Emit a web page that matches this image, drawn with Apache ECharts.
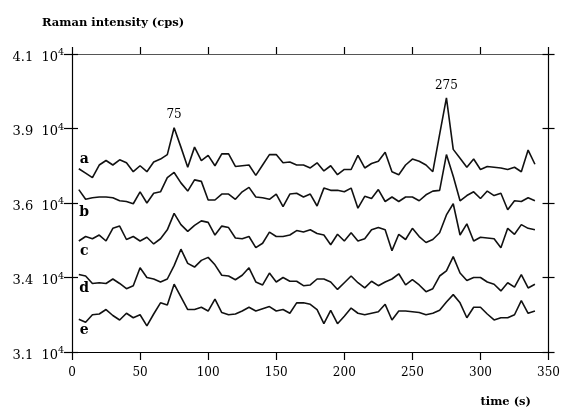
<!DOCTYPE html>
<html>
<head>
<meta charset="utf-8">
<script src="https://cdn.jsdelivr.net/npm/echarts@6/dist/echarts.min.js"></script>
<style>html,body{margin:0;padding:0;background:#fff}#chart{width:563px;height:407px}</style>
</head>
<body>
<div id="chart"></div>
<script>
// x values (time, s)
var time = [5,10,15,20,25,30,35,40,45,50,55,60,65,70,75,80,85,90,95,100,105,110,115,120,125,130,135,140,145,150,155,160,165,170,175,180,185,190,195,200,205,210,215,220,225,230,235,240,245,250,255,260,265,270,275,280,285,290,295,300,305,310,315,320,325,330,335,340];
// y values in tick-index units (0 = 3.1 10^4 ... 4 = 4.1 10^4), traces offset
var traceA = [2.46,2.40,2.34,2.51,2.57,2.51,2.58,2.54,2.42,2.50,2.42,2.55,2.59,2.65,3.01,2.75,2.48,2.75,2.57,2.64,2.50,2.66,2.66,2.49,2.50,2.51,2.37,2.51,2.65,2.65,2.54,2.55,2.51,2.51,2.47,2.54,2.43,2.50,2.38,2.45,2.45,2.64,2.47,2.53,2.56,2.68,2.42,2.38,2.51,2.59,2.56,2.51,2.42,2.92,3.41,2.72,2.60,2.48,2.59,2.45,2.49,2.48,2.47,2.45,2.48,2.42,2.71,2.52];
var traceB = [2.18,2.05,2.07,2.08,2.08,2.07,2.03,2.02,1.99,2.15,2.00,2.13,2.15,2.34,2.41,2.27,2.16,2.31,2.29,2.04,2.04,2.12,2.12,2.05,2.15,2.21,2.08,2.07,2.05,2.12,1.95,2.12,2.13,2.08,2.12,1.96,2.20,2.17,2.17,2.15,2.20,1.93,2.09,2.06,2.18,2.02,2.08,2.02,2.08,2.08,2.03,2.11,2.16,2.17,2.65,2.36,2.03,2.10,2.15,2.06,2.16,2.10,2.13,1.91,2.03,2.02,2.07,2.03];
var traceC = [1.49,1.55,1.52,1.57,1.49,1.66,1.69,1.51,1.55,1.49,1.54,1.45,1.52,1.64,1.86,1.71,1.62,1.70,1.76,1.74,1.57,1.69,1.67,1.53,1.52,1.55,1.40,1.46,1.61,1.55,1.55,1.57,1.63,1.61,1.64,1.59,1.57,1.44,1.58,1.49,1.60,1.49,1.52,1.64,1.67,1.64,1.36,1.58,1.51,1.66,1.55,1.47,1.51,1.60,1.84,1.99,1.57,1.72,1.49,1.54,1.53,1.52,1.40,1.66,1.58,1.71,1.66,1.64];
var traceD = [1.04,1.02,0.92,0.93,0.92,0.98,0.92,0.85,0.89,1.13,1.00,0.98,0.94,0.98,1.16,1.38,1.19,1.14,1.23,1.27,1.17,1.03,1.02,0.97,1.03,1.13,0.94,0.90,1.06,0.94,1.00,0.95,0.95,0.89,0.90,0.98,0.98,0.94,0.84,0.93,1.02,0.93,0.86,0.95,0.89,0.94,0.98,1.05,0.90,0.97,0.90,0.81,0.85,1.02,1.09,1.28,1.06,0.96,1.00,1.00,0.94,0.91,0.82,0.93,0.87,1.04,0.86,0.91];
var traceE = [0.44,0.40,0.50,0.51,0.57,0.49,0.43,0.52,0.46,0.50,0.35,0.51,0.66,0.63,0.91,0.74,0.57,0.57,0.60,0.55,0.71,0.53,0.50,0.51,0.55,0.60,0.55,0.58,0.61,0.55,0.57,0.52,0.66,0.66,0.64,0.57,0.38,0.56,0.38,0.48,0.59,0.52,0.50,0.52,0.54,0.64,0.43,0.55,0.55,0.54,0.53,0.50,0.52,0.56,0.67,0.77,0.66,0.46,0.60,0.60,0.51,0.43,0.46,0.46,0.50,0.69,0.52,0.55];
var traceNames = ['a','b','c','d','e'];
var traceLetterX = [9,9,9,9,9];
var traceLetterY = [2.59,1.88,1.35,0.85,0.29];
var peakTimes = [75,275];
var yTickLabels = ['3.1','3.4','3.6','3.9','4.1'];
var yTickExponent = '4';
var xTicks = [0,50,100,150,200,250,300,350];

var FONT = 'DejaVu Serif';
var INK = '#000';
var traces = [traceA, traceB, traceC, traceD, traceE];

var series = traces.map(function (arr, k) {
  return {
    name: traceNames[k], type: 'line', xAxisIndex: 0, yAxisIndex: 0,
    data: time.map(function (t, i) { return [t, arr[i]]; }),
    showSymbol: false, symbol: 'none', silent: true,
    lineStyle: { color: '#111', width: 1.6 }, animation: false
  };
});
// peak annotations on trace a
series.push({
  type: 'scatter', xAxisIndex: 0, yAxisIndex: 0, symbolSize: 1, silent: true, animation: false,
  itemStyle: { opacity: 0 },
  data: peakTimes.map(function (t) { return [t, traceA[time.indexOf(t)]]; }),
  label: { show: true, position: 'top', distance: 6, opacity: 1,
    formatter: function (p) { return String(p.value[0]); },
    fontFamily: FONT, fontSize: 12, color: INK }
});
// trace letters
series.push({
  type: 'scatter', xAxisIndex: 0, yAxisIndex: 0, symbolSize: 1, silent: true, animation: false,
  itemStyle: { opacity: 0 },
  data: traceNames.map(function (n, k) { return { value: [traceLetterX[k], traceLetterY[k]], name: n }; }),
  label: { show: true, position: 'inside', opacity: 1, formatter: '{b}', fontFamily: FONT, fontWeight: 'bold', fontSize: 14, color: INK }
});

var xMin = xTicks[0], xMax = xTicks[xTicks.length - 1], xInt = xTicks[1] - xTicks[0];
var yMax = yTickLabels.length - 1;

var chart = echarts.init(document.getElementById('chart'), null, { renderer: 'canvas' });
chart.setOption({
  animation: false,
  backgroundColor: '#fff',
  title: [
    { text: 'Raman intensity (cps)', left: 37, top: 12,
      textStyle: { fontFamily: FONT, fontWeight: 'bold', fontSize: 11.5, color: INK } },
    { text: 'time (s)', right: 27, top: 391,
      textStyle: { fontFamily: FONT, fontWeight: 'bold', fontSize: 11.5, color: INK } }
  ],
  grid: { left: 72, right: 13, top: 54, bottom: 55, containLabel: false },
  xAxis: [
    { type: 'value', position: 'bottom', min: xMin, max: xMax, interval: xInt,
      axisLine: { show: true, onZero: false, lineStyle: { color: INK, width: 1.2 } },
      axisTick: { show: true, inside: false, length: 8, lineStyle: { color: INK, width: 1.2 } },
      axisLabel: { margin: 15, fontFamily: FONT, fontSize: 12, color: INK },
      splitLine: { show: false } },
    { type: 'value', position: 'top', min: xMin, max: xMax, interval: xInt,
      axisLine: { show: true, onZero: false, lineStyle: { color: '#555', width: 1 } },
      axisTick: { show: true, inside: false, length: 7, lineStyle: { color: INK, width: 1.2 } },
      axisLabel: { show: false }, splitLine: { show: false } }
  ],
  yAxis: [
    { type: 'value', position: 'left', min: 0, max: yMax, interval: 1,
      axisLine: { show: true, onZero: false, lineStyle: { color: INK, width: 1.2 } },
      axisTick: { show: true, inside: false, length: 8, lineStyle: { color: INK, width: 1.2 } },
      axisLabel: { margin: 8, formatter: function (v) {
          return '{n|' + yTickLabels[Math.round(v)] + '  10}{s|' + yTickExponent + '}'; },
        rich: {
          n: { fontFamily: FONT, fontSize: 13, color: INK, lineHeight: 20, verticalAlign: 'bottom' },
          s: { fontFamily: FONT, fontSize: 9.5, color: INK, lineHeight: 16, padding: [4, 0, 0, 0], verticalAlign: 'top' }
        } },
      splitLine: { show: false } },
    { type: 'value', position: 'left', min: 0, max: yMax, interval: 1,
      axisLine: { show: false, onZero: false },
      axisTick: { show: true, inside: true, length: 6, lineStyle: { color: INK, width: 1.2 } },
      axisLabel: { show: false }, splitLine: { show: false } },
    { type: 'value', position: 'right', min: 0, max: yMax, interval: 1,
      axisLine: { show: true, onZero: false, lineStyle: { color: INK, width: 1.2 } },
      axisTick: { show: true, inside: false, length: 6, lineStyle: { color: INK, width: 1.2 } },
      axisLabel: { show: false }, splitLine: { show: false } },
    { type: 'value', position: 'right', min: 0, max: yMax, interval: 1,
      axisLine: { show: false, onZero: false },
      axisTick: { show: true, inside: true, length: 6, lineStyle: { color: INK, width: 1.2 } },
      axisLabel: { show: false }, splitLine: { show: false } }
  ],
  series: series
});
</script>
</body>
</html>
